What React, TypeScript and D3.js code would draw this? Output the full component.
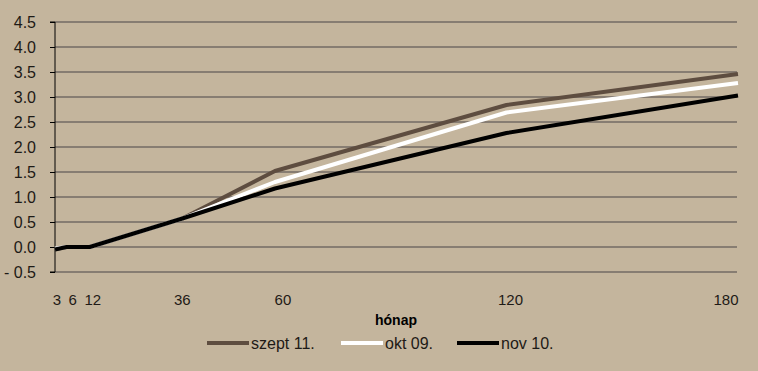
import React, { useEffect, useRef } from 'react';
import * as d3 from 'd3';

const months = [3, 6, 12, 36, 60, 120, 180];
const szept11 = [-0.04, 0.0, 0.0, 0.57, 1.52, 2.84, 3.46];
const okt09 = [-0.03, 0.0, 0.0, 0.57, 1.3, 2.69, 3.28];
const nov10 = [-0.05, 0.0, 0.0, 0.57, 1.17, 2.28, 3.03];
const xTicks = [3, 6, 12, 36, 60, 120, 180];
const yTicks = [-0.5, 0, 0.5, 1, 1.5, 2, 2.5, 3, 3.5, 4, 4.5];

const seriesList = [
    { name: 'szept 11.', values: szept11, color: '#5e4d40' },
    { name: 'okt 09.', values: okt09, color: '#ffffff' },
    { name: 'nov 10.', values: nov10, color: '#000000' },
];

const W = 758;
const H = 371;

export default function App() {
    const svgRef = useRef<SVGSVGElement | null>(null);

    useEffect(() => {
        const svg = d3.select(svgRef.current);
        svg.selectAll('*').remove();

        const font = '"Liberation Sans", Arial, sans-serif';

        svg.append('rect').attr('width', W).attr('height', H).attr('fill', '#c4b59d');

        const x = d3.scaleLinear().domain([3, 180]).range([55, 738]);
        const y = d3.scaleLinear().domain([-0.5, 4.5]).range([272, 22]);

        // gridlines
        svg.append('g')
            .selectAll('line')
            .data(yTicks)
            .enter()
            .append('line')
            .attr('x1', 55)
            .attr('x2', 737)
            .attr('y1', d => y(d))
            .attr('y2', d => y(d))
            .attr('stroke', '#877d72')
            .attr('stroke-width', 2);

        // y axis
        const yAxis = svg.append('g')
            .attr('transform', 'translate(55,0)')
            .call(d3.axisLeft(y).tickValues(yTicks).tickSize(5).tickPadding(14)
                .tickFormat(d => {
                    const v = +d;
                    return v < 0 ? '- ' + Math.abs(v).toFixed(1) : v.toFixed(1);
                }));
        yAxis.select('.domain').attr('stroke', '#000').attr('d', `M-5,${y(-0.5)}H0V${y(4.5)}H-5`);
        yAxis.selectAll('.tick line').attr('stroke', '#000');
        yAxis.selectAll('.tick text')
            .attr('font-family', font)
            .attr('font-size', 16)
            .attr('fill', '#1e1a16');

        // x labels
        const nudge: Record<number, number> = { 3: 2, 6: 6, 12: 3, 36: 0, 60: 8, 120: 4, 180: 0 };
        svg.append('g')
            .selectAll('text')
            .data(xTicks)
            .enter()
            .append('text')
            .attr('x', d => Math.min(x(d) + nudge[d], 726))
            .attr('y', 305)
            .attr('text-anchor', 'middle')
            .attr('font-family', font)
            .attr('font-size', 15)
            .attr('fill', '#1e1a16')
            .text(d => String(d));

        svg.append('text')
            .attr('x', 396)
            .attr('y', 325)
            .attr('text-anchor', 'middle')
            .attr('font-family', font)
            .attr('font-size', 14)
            .attr('font-weight', 'bold')
            .attr('fill', '#000')
            .text('hónap');

        const line = d3.line<number>()
            .x((_, i) => x(months[i]))
            .y(d => y(d));

        seriesList.forEach(s => {
            svg.append('path')
                .datum(s.values)
                .attr('fill', 'none')
                .attr('stroke', s.color)
                .attr('stroke-width', 4)
                .attr('stroke-linejoin', 'round')
                .attr('d', line);
        });

        // legend
        const legendX = [207, 341, 457];
        const legend = svg.append('g');
        seriesList.forEach((s, i) => {
            legend.append('line')
                .attr('x1', legendX[i])
                .attr('x2', legendX[i] + 42)
                .attr('y1', 343)
                .attr('y2', 343)
                .attr('stroke', s.color)
                .attr('stroke-width', 4);
            legend.append('text')
                .attr('x', legendX[i] + 44)
                .attr('y', 349)
                .attr('font-family', font)
                .attr('font-size', 16)
                .attr('fill', '#1e1a16')
                .text(s.name);
        });
    }, []);

    return (
        <svg ref={svgRef} width={W} height={H} style={{ position: 'absolute', left: 0, top: 0 }}></svg>
    );
}
